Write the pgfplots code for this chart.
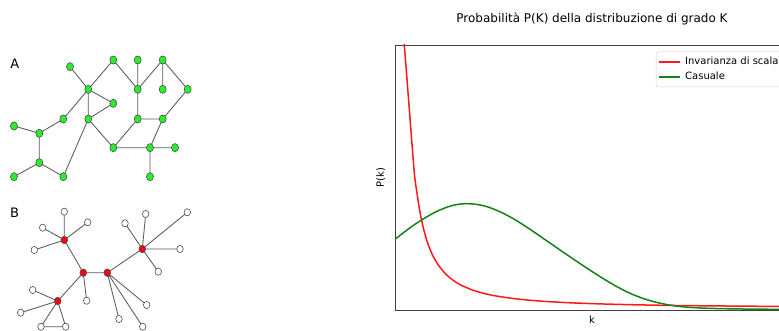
\documentclass[border=0pt]{standalone}
\usepackage{pgfplots}
\pgfplotsset{compat=1.18}
\usepackage{fontspec}
\setmainfont{DejaVu Sans}
\definecolor{nodegreen}{RGB}{45,235,45}
\definecolor{nodered}{RGB}{235,10,20}
\definecolor{edgegray}{RGB}{90,90,90}
\definecolor{mplgreen}{RGB}{20,130,20}
\definecolor{mplred}{RGB}{255,25,25}
\begin{document}
\begin{tikzpicture}
\path[use as bounding box] (0,0) rectangle (779pt,331pt);
\clip (0,0) rectangle (779pt,331pt);
% ---------------- networks ----------------
\begin{axis}[
  at={(0pt,0pt)}, anchor=south west, scale only axis,
  width=200pt, height=331pt, xmin=0, xmax=200, ymin=0, ymax=331,
  y dir=reverse, hide axis, clip=false, unbounded coords=jump]
% graph A edges
\addplot[edgegray, line width=0.85pt] coordinates {
(70,66.7)(88.3,89.3) (nan,nan)
(88.3,89.3)(113.3,60) (nan,nan)
(113.3,60)(137.7,89.3) (nan,nan)
(137.7,89.3)(137.7,60) (nan,nan)
(137.7,89.3)(162.7,60) (nan,nan)
(162.7,60)(162.7,89.3) (nan,nan)
(162.7,60)(187.7,89.3) (nan,nan)
(187.7,89.3)(162.7,119) (nan,nan)
(88.3,89.3)(113.3,103.3) (nan,nan)
(88.3,89.3)(88.3,119) (nan,nan)
(88.3,119)(113.3,103.3) (nan,nan)
(88.3,89.3)(63.3,119) (nan,nan)
(63.3,119)(39.3,133.3) (nan,nan)
(14,126)(39.3,133.3) (nan,nan)
(39.3,133.3)(39.3,162.7) (nan,nan)
(39.3,162.7)(14,176.7) (nan,nan)
(39.3,162.7)(63.3,176.7) (nan,nan)
(63.3,176.7)(88.3,119) (nan,nan)
(88.3,119)(113.3,147.7) (nan,nan)
(113.3,147.7)(137.7,119) (nan,nan)
(137.7,119)(137.7,89.3) (nan,nan)
(137.7,119)(162.7,119) (nan,nan)
(162.7,119)(150,147.7) (nan,nan)
(113.3,147.7)(150,147.7) (nan,nan)
(150,147.7)(175,147.7) (nan,nan)
(150,147.7)(150,176.7)
};
% graph A nodes
\addplot[only marks, mark=*, mark size=4.1pt,
  mark options={fill=nodegreen, draw=black!75, line width=0.5pt, xscale=0.86}] coordinates {
(70,66.7) (113.3,60) (137.7,60) (162.7,60) (88.3,89.3) (137.7,89.3) (162.7,89.3)
(187.7,89.3) (113.3,103.3) (63.3,119) (88.3,119) (137.7,119) (162.7,119) (14,126)
(39.3,133.3) (113.3,147.7) (150,147.7) (175,147.7) (39.3,162.7) (14,176.7)
(63.3,176.7) (150,176.7)
};
% graph B edges
\addplot[edgegray, line width=0.85pt] coordinates {
(64.3,240)(83.3,272.7) (nan,nan)
(83.3,272.7)(107.3,272.7) (nan,nan)
(107.3,272.7)(142.3,249) (nan,nan)
(83.3,272.7)(57.7,301) (nan,nan)
(83.3,272.7)(86.7,300.7) (nan,nan)
(64.3,240)(64.3,211.7) (nan,nan)
(64.3,240)(42.7,227.7) (nan,nan)
(64.3,240)(87.7,222.3) (nan,nan)
(64.3,240)(34.3,250) (nan,nan)
(142.3,249)(145.7,214) (nan,nan)
(142.3,249)(125,223.3) (nan,nan)
(142.3,249)(187.3,212.3) (nan,nan)
(142.3,249)(180,249) (nan,nan)
(142.3,249)(158.3,271.7) (nan,nan)
(107.3,272.7)(146.7,305) (nan,nan)
(107.3,272.7)(119,319) (nan,nan)
(107.3,272.7)(142.7,326.7) (nan,nan)
(57.7,301)(32.7,290) (nan,nan)
(57.7,301)(20.7,312.7) (nan,nan)
(57.7,301)(41,326.7) (nan,nan)
(57.7,301)(65.7,326.7) (nan,nan)
(41,326.7)(65.7,326.7)
};
% graph B white nodes
\addplot[only marks, mark=*, mark size=3.6pt,
  mark options={fill=white, draw=black!70, line width=0.6pt, xscale=0.9}] coordinates {
(64.3,211.7) (42.7,227.7) (87.7,222.3) (34.3,250) (86.7,300.7)
(145.7,214) (125,223.3) (187.3,212.3) (180,249) (158.3,271.7)
(146.7,305) (119,319) (142.7,326.7)
(32.7,290) (20.7,312.7) (41,326.7) (65.7,326.7)
};
% graph B red nodes
\addplot[only marks, mark=*, mark size=3.8pt,
  mark options={fill=nodered, draw=black!70, line width=0.5pt, xscale=0.9}] coordinates {
(64.3,240) (83.3,272.7) (107.3,272.7) (142.3,249) (57.7,301)
};
\node[font=\fontsize{13}{15}\selectfont] at (axis cs:14.7,63.3) {A};
\node[font=\fontsize{13}{15}\selectfont] at (axis cs:14.7,212.5) {B};
\end{axis}
% ---------------- degree distribution ----------------
\begin{axis}[
  at={(395pt,21pt)}, anchor=south west, scale only axis,
  width=394pt, height=265pt, xmin=0, xmax=394, ymin=0, ymax=265,
  xtick=\empty, ytick=\empty,
  axis line style={black!75, line width=0.8pt},
  title={Probabilità P(K) della distribuzione di grado K},
  title style={font=\fontsize{12}{14}\selectfont, yshift=10.5pt},
  xlabel={k}, ylabel={P(k)},
  every axis x label/.style={at={(axis description cs:0.5,0)}, anchor=center, yshift=-10pt, font=\fontsize{10}{12}\selectfont},
  every axis y label/.style={at={(axis description cs:-0.036,0.5)}, anchor=center, rotate=90, font=\fontsize{10}{12}\selectfont},
  legend cell align=left,
  legend image code/.code={\draw[#1] (0pt,0pt) -- (21pt,0pt);},
  legend style={at={(rel axis cs:0.6624,0.975)}, anchor=north west,
    draw=black!20, rounded corners=2pt, font=\fontsize{10}{12}\selectfont,
    inner xsep=2pt, inner ysep=3pt, row sep=1.2pt,
    nodes={inner ysep=2.4pt, inner xsep=4.5pt}},
]
\addplot[mplred, line width=1.5pt, smooth, tension=0.35, forget plot] coordinates {
(7,294) (9.3,265) (14.3,201) (19.3,137) (22,116.8) (25,97.7) (28,83.3)
(32,69) (37,56) (43,45.4) (50,36.7) (57,30.5) (65,25.4) (77,20.1) (90,16.3)
(100,14.2) (115,11.9) (130,10.2) (150,8.6) (175,7.2) (205,6.1) (240,5.2)
(280,4.5) (330,4.0) (394,3.5)
};
\addplot[mplgreen, line width=1.5pt, smooth, tension=0.5, forget plot] coordinates {
(0,70.7) (10,78.5) (20,85.7) (30,92.1) (40,97.7) (50,102.1) (60,105.1)
(70,106.3) (80,105.8) (90,103.9) (100,100.4) (110,95.8) (120,90.3) (130,84)
(140,77.3) (150,70.4) (160,63.5) (170,56.6) (180,49.8) (190,43.1) (200,36.6)
(210,30.3) (220,24.4) (230,19.1) (240,14.6) (250,10.9) (260,8.0) (270,5.8)
(280,4.1) (290,3.0) (300,2.3) (310,1.8) (320,1.5) (340,1.1) (360,0.85) (394,0.6)
};
\addlegendimage{draw=mplred, line width=1.5pt}
\addlegendentry{Invarianza di scala}
\addlegendimage{draw=mplgreen, line width=1.5pt}
\addlegendentry{Casuale}
\end{axis}
\end{tikzpicture}
\end{document}
